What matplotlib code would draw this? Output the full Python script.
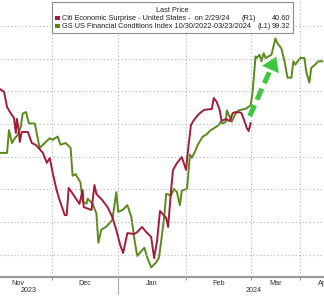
import numpy as np
import matplotlib
matplotlib.use("Agg")
import matplotlib.pyplot as plt
from matplotlib.patches import Rectangle

plt.rcParams['font.family'] = ['Liberation Sans', 'DejaVu Sans']

# x = trading-day index (Nov 1 2023 = 0)
citi_x = [5.1, 6.4, 7.3, 8.2, 9.4, 10.0, 10.3, 10.9, 11.2, 11.8, 13.7, 14.9, 16.1, 17.0,
          18.3, 19.5, 20.4, 21.3, 22.5, 23.4, 25.0, 25.6, 26.2, 27.7, 29.5, 30.5, 30.8,
          33.2, 34.1, 34.7, 36.5, 38.1, 39.6, 40.8, 42.0, 42.9, 44.2, 46.3, 47.2, 48.7,
          50.0, 51.5, 52.4, 53.3, 54.2, 56.1, 56.7, 57.6, 58.2, 59.4, 60.9, 62.2, 62.8,
          63.7, 64.6, 66.1, 67.7, 70.1, 70.7, 71.6, 72.5, 73.1, 74.4, 75.6, 76.5, 77.4,
          78.3, 79.2, 80.2, 80.8, 81.4, 82.0]
citi_y = [61.4, 59.6, 50.4, 47.3, 43.7, 34.5, 43.1, 36.3, 29.0, 35.1, 35.1, 28.4, 27.2, 25.3,
          22.3, 16.2, 19.2, 10.0, -0.4, -6.5, -15.7, -15.7, 0.9, -3.4, -8.9, -0.4, -10.8,
          -12.6, 2.7, -2.8, -6.5, -10.8, -16.9, -24.8, -34.0, -38.9, -26.7, -27.3, -26.1, -23.0,
          -26.1, -29.1, -42.0, -31.6, -13.2, -17.5, -23.0, -0.4, 11.9, 16.1, 19.8, 11.9, 24.1,
          39.4, 42.4, 46.1, 48.6, 49.2, 55.9, 53.5, 48.6, 41.8, 43.1, 41.8, 46.7, 47.3,
          47.3, 46.7, 41.2, 37.6, 35.7, 40.6]

fci_x = [5.1, 7.3, 7.9, 8.8, 9.7, 10.6, 11.5, 12.1, 13.1, 14.0, 15.8, 16.4, 17.3, 18.3,
         20.4, 21.3, 22.8, 23.7, 25.3, 26.8, 27.4, 28.3, 29.8, 30.5, 31.7, 32.0, 33.5, 34.7,
         35.3, 36.2, 37.8, 38.7, 39.6, 40.8, 41.4, 42.7, 44.2, 45.4, 46.3, 47.2, 49.4, 50.3,
         51.5, 53.0, 53.9, 54.5, 55.5, 56.1, 57.6, 58.5, 59.4, 60.3, 60.9, 62.5, 63.4, 64.0,
         65.2, 65.8, 66.7, 67.3, 68.3, 69.8, 70.7, 72.2, 72.8, 73.5, 74.4, 74.7, 75.6, 76.2,
         77.1, 78.3, 80.5, 82.0, 82.6, 83.5, 83.8, 84.7, 85.3, 86.0, 86.6, 87.5, 88.4, 89.6,
         90.2, 91.4, 92.4, 93.3, 94.5, 95.1, 95.7, 97.2, 98.5, 99.1, 100.0, 100.6, 101.8,
         102.7, 104.0]
fci_y = [99.88, 99.88, 99.74, 99.82, 99.79, 99.77, 99.72, 99.64, 99.63, 99.70, 99.70, 99.76,
         99.85, 99.83, 99.79, 99.80, 99.78, 99.83, 99.82, 99.85, 100.02, 100.01, 100.06,
         100.18, 100.19, 100.16, 100.19, 100.25, 100.43, 100.35, 100.33, 100.31, 100.29,
         100.12, 100.24, 100.23, 100.20, 100.27, 100.40, 100.51, 100.46, 100.52, 100.58,
         100.55, 100.52, 100.43, 100.27, 100.13, 100.14, 100.10, 100.12, 100.20, 100.11,
         100.10, 99.89, 99.91, 99.86, 99.83, 99.80, 99.78, 99.77, 99.74, 99.73, 99.71, 99.69,
         99.70, 99.69, 99.62, 99.66, 99.69, 99.65, 99.62, 99.61, 99.59, 99.51, 99.29, 99.30,
         99.28, 99.32, 99.27, 99.30, 99.29, 99.28, 99.18, 99.21, 99.24, 99.32, 99.42, 99.42,
         99.32, 99.34, 99.30, 99.30, 99.39, 99.45, 99.36, 99.34, 99.32, 99.32]

month_edges = [21, 41.4, 62.2, 82, 97.2]
month_pos = [10.5, 31.2, 51.8, 72.1, 89.6, 104.5]
month_labels = ["Nov", "Dec", "Jan", "Feb", "Mar", "Apr"]
year_pos = [14.0, 82.9]
year_labels = ["2023", "2024"]

# arrow (on FCI axis)
arrow_start = (81.7, 99.655)
arrow_end = (90.2, 99.276)

red = '#a11d3a'
green = '#5b8a1c'
arrow_green = '#3cc83c'

fig = plt.figure(figsize=(3.24, 2.96), dpi=100)
ax = fig.add_axes([0, 19 / 296, 1, 277 / 296])
ax2 = ax.twinx()

ax.set_xlim(5.14, 103.95)
ax.set_ylim(100.639, 98.945)   # inverted FCI
ax2.set_ylim(-53.57, 115.84)

# grid
for v in np.arange(-40, 101, 20):
    ax2.axhline(v, color='#b5b5b5', lw=0.8, ls=(0, (1, 2.2)), zorder=0)
for e in month_edges:
    ax.axvline(e, color='#b5b5b5', lw=0.8, ls=(0, (1, 2.2)), zorder=0)

ax.plot(fci_x, fci_y, color=green, lw=1.4, zorder=3)
ax2.plot(citi_x, citi_y, color=red, lw=1.4, zorder=3)

# dashed arrow
dx = arrow_end[0] - arrow_start[0]
dy = arrow_end[1] - arrow_start[1]
shaft_end = (arrow_start[0] + dx * 0.8, arrow_start[1] + dy * 0.8)
ax.plot([arrow_start[0], shaft_end[0]], [arrow_start[1], shaft_end[1]],
        color=arrow_green, lw=3.6, dashes=(2.4, 1.2), solid_capstyle='butt', zorder=5)
ax.annotate('', xy=arrow_end, xytext=(arrow_start[0] + dx * 0.7, arrow_start[1] + dy * 0.7),
            arrowprops=dict(arrowstyle='-|>,head_length=1.0,head_width=0.65', color=arrow_green,
                            lw=0.1, mutation_scale=10), zorder=5)

for a in (ax, ax2):
    for s in ('top', 'left', 'right'):
        a.spines[s].set_visible(False)
    a.set_yticks([])
ax2.spines['bottom'].set_visible(False)
ax.spines['bottom'].set_color('#9a9a9a')
ax.spines['bottom'].set_linewidth(1.6)

ax.set_xticks(month_pos)
ax.set_xticklabels(month_labels, fontsize=5.2, color='#333333')
ax.tick_params(axis='x', which='major', length=0, pad=2.5)
ax.set_xticks(month_edges, minor=True)
ax.tick_params(axis='x', which='minor', length=2.5, width=0.8, color='#9a9a9a')
ax.axvline(month_edges[1], ymin=-0.06, ymax=0, color='#aaaaaa', lw=0.8, clip_on=False)
for p, lab in zip(year_pos, year_labels):
    ax.text(p, -0.05, lab, transform=ax.get_xaxis_transform(), ha='center', va='center',
            fontsize=5.2, color='#333333')

# legend box
W, H = 324, 296
def fx(px):
    return px / W
def fy(py):
    return 1 - py / H

fig.patches.append(Rectangle((fx(52), fy(33)), fx(293) - fx(52), fy(2) - fy(33),
                             transform=fig.transFigure, facecolor='white',
                             edgecolor='#8c8c8c', lw=0.8, zorder=10))
fig.text(fx(172), fy(10), "Last Price", ha='center', va='center', fontsize=5.3, color='#222222', zorder=11)
rows = [(18, red, "Citi Economic Surprise - United States -  on 2/29/24", "(R1)", 241, "40.60"),
        (26, green, "GS US Financial Conditions Index 10/30/2022-03/23/2024", "(L1)", 258, "99.32")]
for py, col, name, side, side_x, val in rows:
    fig.patches.append(Rectangle((fx(55), fy(py + 2.2)), fx(4.5), fy(0) - fy(4.5),
                                 transform=fig.transFigure, facecolor=col, edgecolor='none', zorder=11))
    fig.text(fx(62.5), fy(py), name, ha='left', va='center', fontsize=5.3, color='#222222', zorder=11)
    fig.text(fx(side_x), fy(py), side, ha='left', va='center', fontsize=5.3, color='#222222', zorder=11)
    fig.text(fx(290), fy(py), val, ha='right', va='center', fontsize=5.3, color='#222222', zorder=11)

fig.savefig("out.png", dpi=100, facecolor='white')
